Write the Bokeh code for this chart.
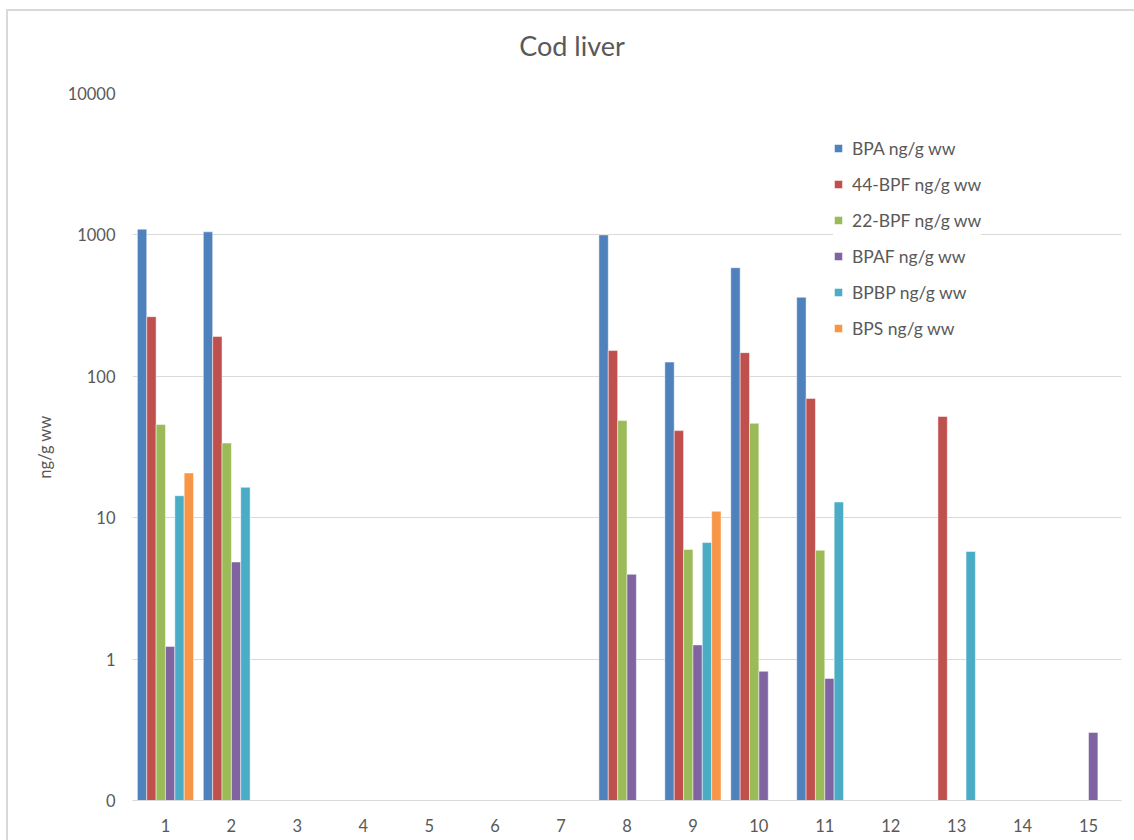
import math
from bokeh.plotting import figure
from bokeh.layouts import column
from bokeh.models import Range1d, FixedTicker, Legend, LegendItem, ColumnDataSource, Label
from bokeh.embed import file_html
from bokeh.resources import INLINE

categories = list(range(1, 16))
series_names = ["BPA ng/g ww", "44-BPF ng/g ww", "22-BPF ng/g ww",
                "BPAF ng/g ww", "BPBP ng/g ww", "BPS ng/g ww"]
N = None
bpa   = [1097, 1051, N, N, N, N, N, 1000, 126, 586, 362, N, N, N, N]
bpf44 = [264, 191, N, N, N, N, N, 152, 41.3, 147, 69.7, N, 52, N, N]
bpf22 = [45.6, 33.7, N, N, N, N, N, 48.6, 5.97, 46.5, 5.89, N, N, N, N]
bpaf  = [1.23, 4.86, N, N, N, N, N, 3.98, 1.26, 0.82, 0.73, N, N, N, 0.303]
bpbp  = [14.3, 16.4, N, N, N, N, N, N, 6.67, N, 12.9, N, 5.77, N, N]
bps   = [20.7, N, N, N, N, N, N, N, 11.1, N, N, N, N, N, N]
y_ticks = [0.1, 1, 10, 100, 1000, 10000]
y_tick_labels = ["0", "1", "10", "100", "1000", "10000"]
title_text = "Cod liver"

colors = ["#4F81BD", "#C0504D", "#9BBB59", "#8064A2", "#4BACC6", "#F79646"]
all_series = [bpa, bpf44, bpf22, bpaf, bpbp, bps]

FONT = "Lato"
GREY = "#595959"
GRID = "#D9D9D9"
W = 1126

# ---- title strip ----
t = figure(width=W, height=72, output_backend="svg", toolbar_location=None,
           x_range=Range1d(0, 1), y_range=Range1d(0, 1),
           x_axis_location=None, y_axis_location=None,
           min_border=0, min_border_left=0, min_border_right=0,
           min_border_top=0, min_border_bottom=0)
t.outline_line_color = None
t.xgrid.visible = False
t.ygrid.visible = False
t.add_layout(Label(x=0.5, y=0.5, x_offset=-55, y_offset=2, text=title_text,
                   text_font=FONT, text_font_size="27px", text_color=GREY,
                   text_align="center", text_baseline="middle"))

# ---- main chart ----
x_range = Range1d(0.5, 15.5)
y_range = Range1d(y_ticks[0], y_ticks[-1])
p = figure(width=W, height=757, output_backend="svg", toolbar_location=None,
           x_range=x_range, y_range=y_range, y_axis_type="log",
           min_border_left=124, min_border_right=13, min_border_top=10,
           min_border_bottom=40)

p.outline_line_color = None
p.xgrid.grid_line_color = None
p.ygrid.grid_line_color = GRID
p.ygrid.ticker = FixedTicker(ticks=y_ticks)

p.yaxis.ticker = FixedTicker(ticks=y_ticks)
p.yaxis.major_label_overrides = {tk: lb for tk, lb in zip(y_ticks, y_tick_labels)}
p.yaxis.axis_line_color = None
p.yaxis.major_tick_line_color = None
p.yaxis.minor_tick_line_color = None
p.yaxis.major_label_standoff = 11
p.yaxis.major_label_text_font = FONT
p.yaxis.major_label_text_font_size = "16.5px"
p.yaxis.major_label_text_color = GREY
p.yaxis.axis_label = "ng/g ww"
p.yaxis.axis_label_text_font = FONT
p.yaxis.axis_label_text_font_size = "16.5px"
p.yaxis.axis_label_text_font_style = "normal"
p.yaxis.axis_label_text_color = GREY
p.yaxis.axis_label_standoff = 10

p.xaxis.ticker = FixedTicker(ticks=categories)
p.xaxis.axis_line_color = GRID
p.xaxis.major_tick_line_color = None
p.xaxis.minor_tick_line_color = None
p.xaxis.major_label_standoff = 12
p.xaxis.major_label_text_font = FONT
p.xaxis.major_label_text_font_size = "16.5px"
p.xaxis.major_label_text_color = GREY

bw = 0.142
items = []
for i, (name, vals, c) in enumerate(zip(series_names, all_series, colors)):
    xs = [cat + (i - 2.5) * bw for cat, v in zip(categories, vals) if v is not None]
    ys = [v for v in vals if v is not None]
    src = ColumnDataSource(dict(x=xs, top=ys, bottom=[y_ticks[0]] * len(ys)))
    r = p.vbar(x="x", top="top", bottom="bottom", width=bw, source=src,
               fill_color=c, line_color="white", line_alpha=0.6, line_width=0.8)
    items.append(LegendItem(label=name, renderers=[r]))

legend = Legend(items=items, location=(701, 461), orientation="vertical",
                glyph_width=10, glyph_height=10, label_height=22, spacing=14,
                padding=8, margin=0, label_standoff=9,
                label_text_font=FONT, label_text_font_size="17.5px",
                label_text_color=GREY, border_line_color=None,
                background_fill_color="white", background_fill_alpha=1.0)
p.add_layout(legend, "center")

layout = column(t, p, spacing=0)
layout.styles = {"border-left": "2px solid #D9D9D9", "border-top": "2px solid #D9D9D9",
                 "margin-left": "6px", "margin-top": "9px"}

open("out.html", "w").write(file_html(layout, INLINE))
